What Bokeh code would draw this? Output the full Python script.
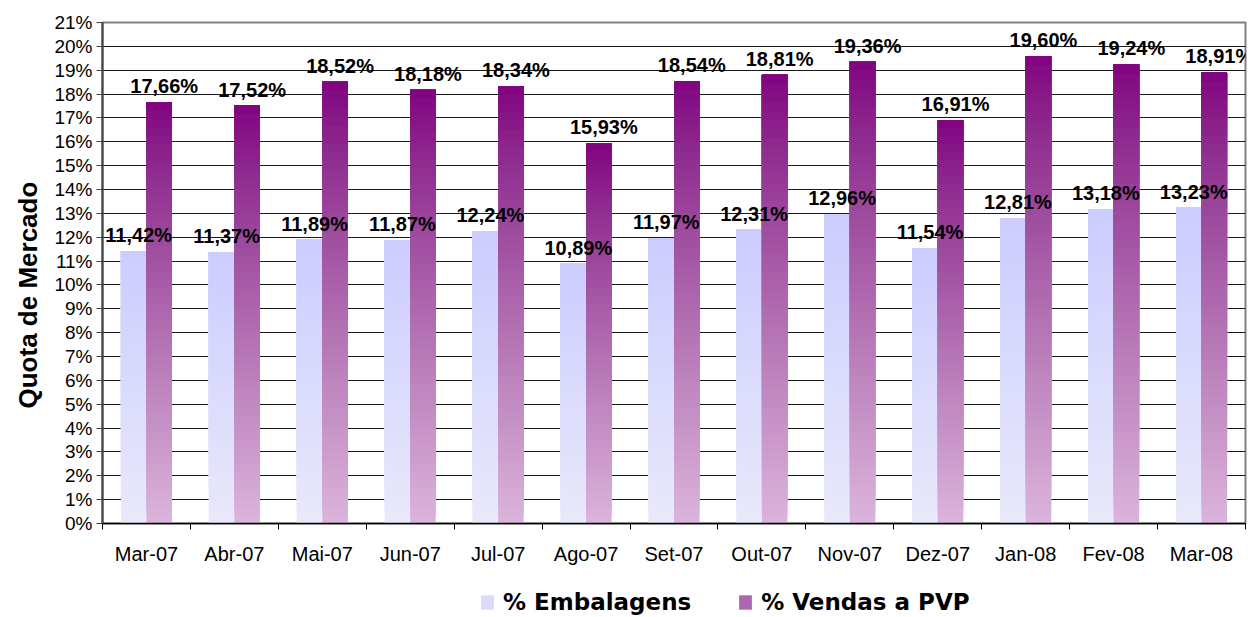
from bokeh.plotting import figure
from bokeh.layouts import column
from bokeh.models import (ColumnDataSource, Range1d, FixedTicker, PrintfTickFormatter,
                          LabelSet, Legend, LegendItem, Title)
from bokeh.core.properties import value
from bokeh.embed import file_html
from bokeh.resources import INLINE

# ---------------- data ----------------
months = ["Mar-07", "Abr-07", "Mai-07", "Jun-07", "Jul-07", "Ago-07", "Set-07",
          "Out-07", "Nov-07", "Dez-07", "Jan-08", "Fev-08", "Mar-08"]
embalagens = [11.42, 11.37, 11.89, 11.87, 12.24, 10.89, 11.97, 12.31, 12.96, 11.54, 12.81, 13.18, 13.23]
vendas_pvp = [17.66, 17.52, 18.52, 18.18, 18.34, 15.93, 18.54, 18.81, 19.36, 16.91, 19.60, 19.24, 18.91]
y_ticks = list(range(0, 22))
series_names = ["% Embalagens", "% Vendas a PVP"]
y_title = "Quota de Mercado"

# ---------------- style ----------------
N_SEG = 50
BAR_W = 0.29
OFF = 0.145
light_bottom, light_top = (233, 233, 251), (204, 204, 255)
dark_bottom, dark_top = (219, 180, 219), (128, 0, 128)
G_EXP = 0.8   # green channel rises faster -> greyer mid tones


def hexc(c):
    return "#%02x%02x%02x" % tuple(int(round(v)) for v in c)


def mix(c_bot, c_top, t, gexp=1.0):
    # t = 0 bottom, 1 top
    u = 1 - t
    out = []
    for j in range(3):
        w = u ** gexp if j == 1 else u
        out.append(c_top[j] + (c_bot[j] - c_top[j]) * w)
    return out


def gradient_source(values, offset, c_bot, c_top, gexp=1.0):
    xs, bots, tops, cols = [], [], [], []
    for i, v in enumerate(values):
        for k in range(N_SEG):
            t = (k + 0.5) / N_SEG
            xs.append(i + 0.5 + offset)
            bots.append(v * k / N_SEG)
            tops.append(v)
            cols.append(hexc(mix(c_bot, c_top, t, gexp)))
    return ColumnDataSource(dict(x=xs, bottom=bots, top=tops, color=cols))


p = figure(width=1248, height=580, output_backend="svg", toolbar_location=None,
           x_range=Range1d(0, len(months)), y_range=Range1d(0, 21),
           min_border_left=102, min_border_right=3, min_border_top=22, min_border_bottom=57)

p.background_fill_color = "white"
p.border_fill_color = "white"
p.outline_line_color = "#808080"
p.outline_line_width = 2

# grid
p.xgrid.visible = False
p.ygrid.ticker = FixedTicker(ticks=list(range(1, 21)))
p.ygrid.grid_line_color = "#1a1a1a"
p.ygrid.grid_line_width = 1

# y axis
p.yaxis.ticker = FixedTicker(ticks=y_ticks)
p.yaxis.formatter = PrintfTickFormatter(format="%d%%")
p.yaxis.major_label_text_font = "Liberation Sans"
p.yaxis.major_label_text_font_size = "19px"
p.yaxis.major_label_text_color = "black"
p.yaxis.major_tick_out = 6
p.yaxis.major_tick_in = 0
p.yaxis.minor_tick_line_color = None
p.yaxis.axis_line_color = "#404040"
p.yaxis.axis_line_width = 2
p.yaxis.major_tick_line_color = "#404040"
p.yaxis.major_label_standoff = 4

p.add_layout(Title(text=y_title, align="left", offset=115, standoff=18,
                   text_font="Liberation Sans", text_font_style="bold",
                   text_font_size="26px", text_color="black"), "left")

# x axis: labels at centres, ticks at boundaries
centers = [i + 0.5 for i in range(len(months))]
p.xaxis.ticker = FixedTicker(ticks=centers, minor_ticks=list(range(len(months) + 1)))
p.xaxis.major_label_overrides = {c: m for c, m in zip(centers, months)}
p.xaxis.major_tick_line_color = None
p.xaxis.major_tick_out = 0
p.xaxis.major_tick_in = 0
p.xaxis.minor_tick_out = 6
p.xaxis.minor_tick_in = 0
p.xaxis.minor_tick_line_color = "black"
p.xaxis.axis_line_color = "black"
p.xaxis.axis_line_width = 1.5
p.xaxis.major_label_text_font = "Liberation Sans"
p.xaxis.major_label_text_font_size = "20px"
p.xaxis.major_label_text_color = "black"
p.xaxis.major_label_standoff = 13

# bars
src_l = gradient_source(embalagens, -OFF, light_bottom, light_top)
src_d = gradient_source(vendas_pvp, OFF, dark_bottom, dark_top, G_EXP)
p.vbar(x="x", bottom="bottom", top="top", width=BAR_W, fill_color="color",
       line_color=None, source=src_l)
p.vbar(x="x", bottom="bottom", top="top", width=BAR_W, fill_color="color",
       line_color=None, source=src_d)

# labels
def fmt(v):
    return ("%.2f" % v).replace(".", ",") + "%"

lab_l = ColumnDataSource(dict(x=[c - OFF for c in centers], y=embalagens,
                              t=[fmt(v) for v in embalagens]))
lab_d = ColumnDataSource(dict(x=[c + OFF for c in centers], y=vendas_pvp,
                              t=[fmt(v) for v in vendas_pvp]))
for s in (lab_l, lab_d):
    p.add_layout(LabelSet(x="x", y="y", text="t", source=s, x_offset=5, y_offset=9,
                          text_align="center", text_baseline="alphabetic",
                          text_font=value("Liberation Sans"), text_font_style="bold",
                          text_font_size="20px", text_color="black"))

# ---------------- legend strip ----------------
lf = figure(width=1248, height=37, output_backend="svg", toolbar_location=None,
            x_range=Range1d(0, 1), y_range=Range1d(0, 1),
            x_axis_location=None, y_axis_location=None,
            min_border_left=102, min_border_right=3, min_border_top=0, min_border_bottom=0)
lf.grid.visible = False
lf.outline_line_color = None
lf.background_fill_color = "white"
lf.border_fill_color = "white"
sw_l = lf.vbar(x=[0.5], bottom=[0], top=[0], width=0.0, line_color=None,
               fill_color=hexc(mix(light_bottom, light_top, 0.5)))
sw_d = lf.vbar(x=[0.5], bottom=[0], top=[0], width=0.0, line_color=None,
               fill_color=hexc(mix(dark_bottom, dark_top, 0.5, G_EXP)))
legend = Legend(items=[LegendItem(label=series_names[0], renderers=[sw_l]),
                       LegendItem(label=series_names[1], renderers=[sw_d])],
                orientation="horizontal", location=(377, 2),
                label_text_font="DejaVu Sans", label_text_font_style="bold",
                label_text_font_size="23px", label_text_color="black",
                glyph_width=16, glyph_height=18, label_standoff=8, spacing=46,
                padding=2, margin=0, border_line_color=None, background_fill_alpha=0)
lf.add_layout(legend, "center")

open("out.html", "w").write(file_html(column(p, lf, spacing=0), INLINE))
